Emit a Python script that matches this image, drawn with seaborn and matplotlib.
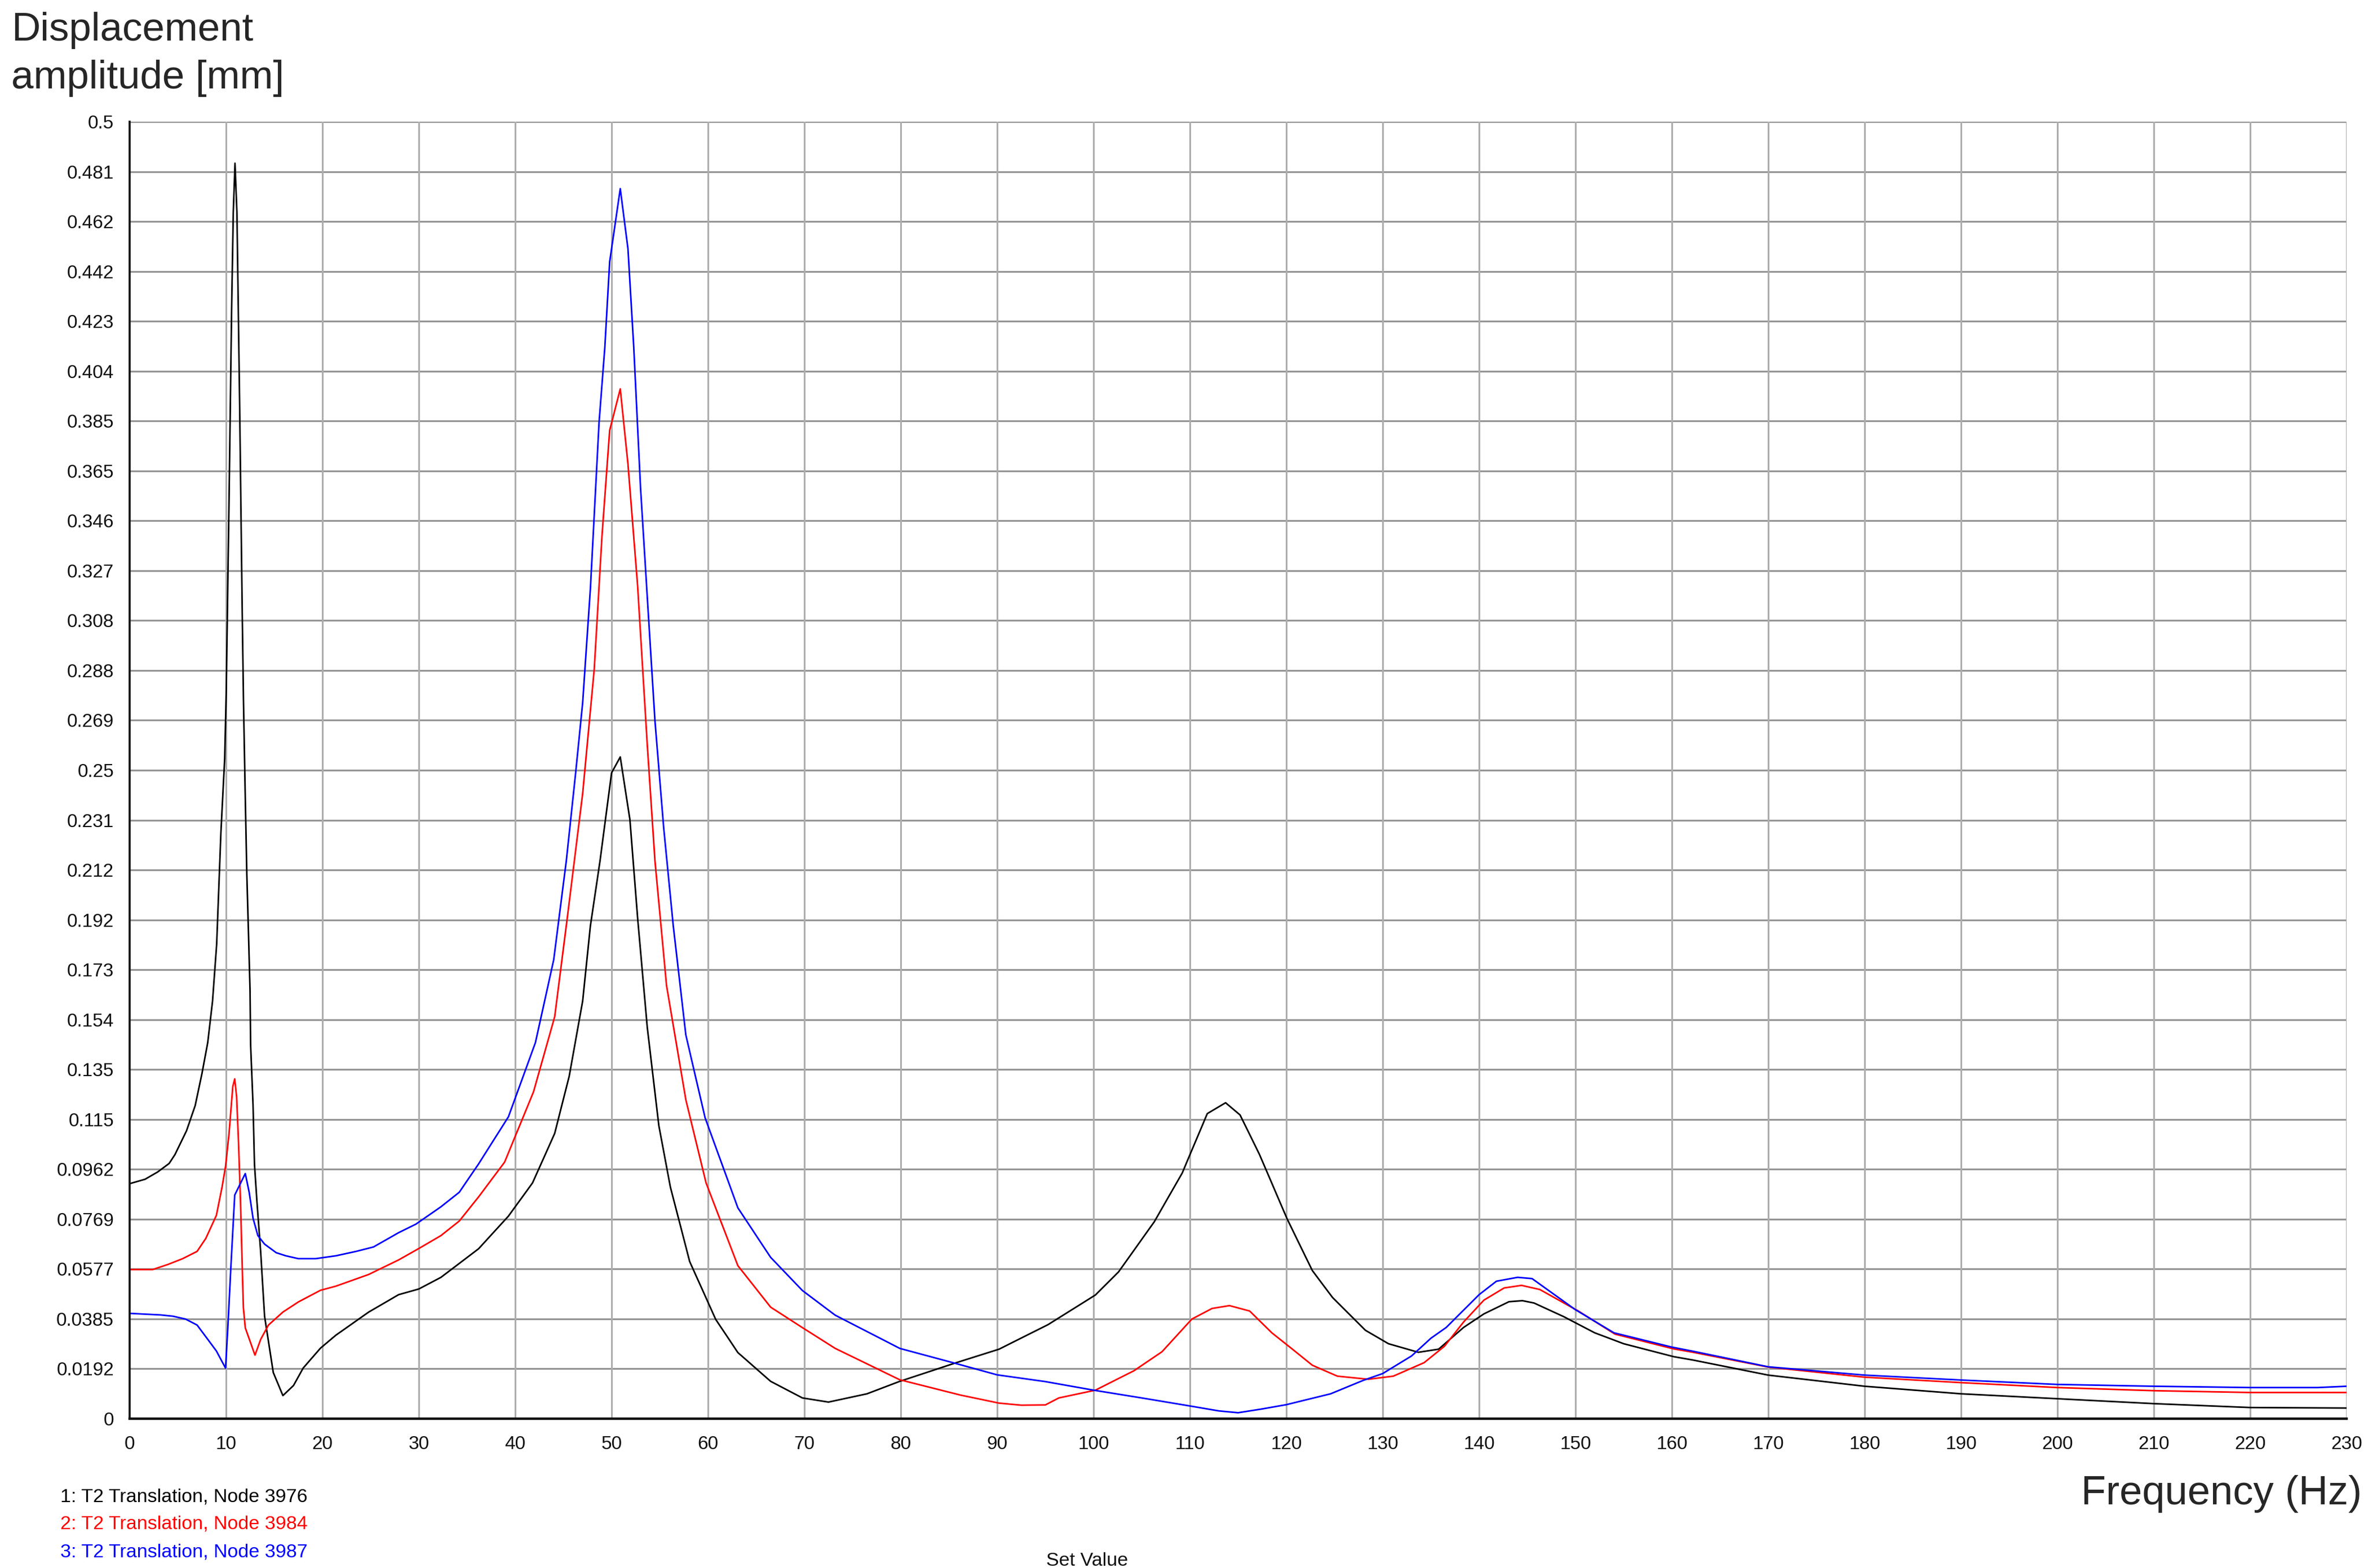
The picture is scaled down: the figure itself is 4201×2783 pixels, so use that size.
import matplotlib
matplotlib.use("Agg")
import matplotlib.pyplot as plt
import seaborn as sns
import numpy as np
import pandas as pd

# ---------------- data ----------------
series_names = ["1: T2 Translation, Node 3976",
                "2: T2 Translation, Node 3984",
                "3: T2 Translation, Node 3987"]
series_colors = ["#000000", "#FF0000", "#0000FF"]

freq_black = [0, 1.6, 2.9, 4.1, 4.7, 5.9, 6.8, 7.5, 8.1, 8.6, 9.03, 9.47, 9.86, 10.02,
              10.31, 10.58, 10.75, 10.93, 11.13, 11.42, 11.67, 11.81, 12.0, 12.16, 12.33,
              12.49, 12.55, 12.8, 12.95, 13.2, 13.6, 14.0, 14.9, 15.9, 17.0, 18.0, 19.8,
              21.4, 24.8, 27.9, 30.0, 32.3, 36.2, 39.3, 41.8, 44.1, 45.6, 47.0, 47.8, 48.8,
              50.0, 50.9, 51.9, 52.7, 53.7, 54.9, 56.1, 58.1, 60.8, 63.1, 66.5, 69.8, 72.5,
              76.5, 79.9, 85.6, 90.2, 95.3, 100.2, 102.6, 106.3, 109.2, 111.8, 113.7, 115.2,
              117.2, 120.1, 122.7, 124.8, 128.2, 130.6, 133.7, 135.8, 138.4, 140.5, 143.1,
              144.5, 145.7, 148.8, 152.0, 155.0, 160.2, 162.2, 170, 180, 190, 200, 210, 220, 230]
amp_black = [0.0906, 0.0923, 0.0951, 0.0984, 0.1018, 0.111, 0.1207, 0.133, 0.145, 0.161, 0.183,
             0.226, 0.2545, 0.280, 0.354, 0.428, 0.465, 0.484, 0.465, 0.389, 0.314, 0.277, 0.239,
             0.2095, 0.187, 0.165, 0.144, 0.121, 0.098, 0.084, 0.064, 0.0395, 0.0178, 0.0089,
             0.0128, 0.0195, 0.0272, 0.0322, 0.0411, 0.0478, 0.050, 0.0545, 0.0655, 0.0781,
             0.0909, 0.110, 0.132, 0.161, 0.190, 0.215, 0.249, 0.2551, 0.231, 0.193, 0.151,
             0.113, 0.0893, 0.0606, 0.0383, 0.0255, 0.0144, 0.008, 0.0064, 0.0096, 0.0144,
             0.0214, 0.0268, 0.0363, 0.0477, 0.0566, 0.0759, 0.0947, 0.1176, 0.1218, 0.1171,
             0.102, 0.0769, 0.0571, 0.0467, 0.0341, 0.0289, 0.0256, 0.0268, 0.0352, 0.0404,
             0.0451, 0.0455, 0.0446, 0.0393, 0.0331, 0.0289, 0.0239, 0.0226, 0.0168, 0.0125,
             0.0096, 0.0077, 0.0058, 0.0043, 0.0041]

freq_red = [0, 2.4, 4.0, 5.5, 7.0, 7.9, 9.0, 9.6, 9.95, 10.3, 10.7, 10.9, 11.1, 11.3, 11.5,
            11.7, 11.8, 12.0, 13.0, 13.6, 14.4, 15.9, 17.5, 19.8, 21.4, 24.8, 27.9, 30.0, 32.3,
            34.2, 36.2, 38.9, 41.9, 44.1, 45.4, 47.0, 48.2, 49.0, 49.8, 50.9, 51.7, 52.7, 53.7,
            54.5, 55.7, 57.7, 59.8, 63.1, 66.5, 69.8, 73.2, 79.9, 86.2, 90.2, 92.5, 95.0, 96.4,
            100.2, 104.2, 107.1, 110.2, 112.3, 114.1, 116.2, 118.5, 120.6, 122.7, 125.3, 128.5,
            131.1, 134.3, 136.4, 138.4, 140.5, 142.6, 144.4, 146.3, 150.3, 154.1, 160.2, 162.2,
            170, 180, 190, 200, 210, 220, 230]
amp_red = [0.0575, 0.0575, 0.0595, 0.0617, 0.0645, 0.0695, 0.0784, 0.0895, 0.0973, 0.1095,
           0.128, 0.131, 0.124, 0.106, 0.084, 0.056, 0.0428, 0.035, 0.0245, 0.0306, 0.0361,
           0.0411, 0.045, 0.0495, 0.0511, 0.0556, 0.0612, 0.0656, 0.0706, 0.0762, 0.0855,
           0.0989, 0.126, 0.155, 0.193, 0.241, 0.289, 0.340, 0.381, 0.397, 0.368, 0.321, 0.260,
           0.215, 0.167, 0.123, 0.0909, 0.059, 0.043, 0.0351, 0.0271, 0.0150, 0.0091, 0.006,
           0.0052, 0.0053, 0.008, 0.011, 0.0185, 0.0258, 0.0384, 0.0425, 0.0436, 0.0415,
           0.0331, 0.0269, 0.0206, 0.0164, 0.0152, 0.0164, 0.0216, 0.0279, 0.0373, 0.0457,
           0.0504, 0.0514, 0.0498, 0.0415, 0.0326, 0.0269, 0.0256, 0.0199, 0.016, 0.0139,
           0.012, 0.0108, 0.0101, 0.0101]

freq_blue = [0, 3.2, 4.5, 5.8, 7.0, 8.1, 9.0, 9.95, 10.2, 10.5, 10.9, 12.0, 12.4, 12.8, 13.3,
             14.0, 15.2, 16.2, 17.5, 19.3, 21.4, 23.5, 25.3, 27.9, 29.7, 32.3, 34.2, 36.2, 39.3,
             42.1, 44.0, 45.3, 46.3, 47.0, 47.8, 48.7, 49.3, 49.8, 50.9, 51.7, 52.3, 53.0, 53.7,
             54.5, 55.4, 56.4, 57.7, 59.7, 63.1, 66.5, 69.8, 73.2, 79.9, 85.6, 90.0, 95.0,
             100.0, 105.0, 110.0, 113.0, 115.0, 117.4, 120.0, 124.6, 128.0, 130.0, 133.0,
             135.0, 136.6, 140.0, 141.8, 144.0, 145.5, 150.0, 154.0, 160.0, 162.2, 170, 180,
             190, 200, 210, 220, 227, 230]
amp_blue = [0.0406, 0.040, 0.0395, 0.0384, 0.0361, 0.0306, 0.0261, 0.0195, 0.0361, 0.0584,
            0.0862, 0.0945, 0.0873, 0.0773, 0.0706, 0.0673, 0.064, 0.0628, 0.0617, 0.0617,
            0.0628, 0.0645, 0.0662, 0.0717, 0.075, 0.0817, 0.0873, 0.0982, 0.1164, 0.145,
            0.177, 0.215, 0.250, 0.276, 0.320, 0.384, 0.413, 0.446, 0.4742, 0.451, 0.413,
            0.359, 0.317, 0.269, 0.228, 0.190, 0.148, 0.116, 0.0813, 0.0622, 0.0494, 0.0399,
            0.0271, 0.0214, 0.0169, 0.0143, 0.011, 0.008, 0.0049, 0.003, 0.0023, 0.0037,
            0.0054, 0.0096, 0.0148, 0.0174, 0.0242, 0.031, 0.0352, 0.0478, 0.053, 0.0545,
            0.054, 0.042, 0.0331, 0.0276, 0.026, 0.020, 0.0168, 0.0149, 0.0132, 0.0125,
            0.012, 0.012, 0.0125]

x_ticks = list(range(0, 231, 10))
x_tick_labels = [str(v) for v in x_ticks]
y_tick_labels = ["0", "0.0192", "0.0385", "0.0577", "0.0769", "0.0962", "0.115", "0.135",
                 "0.154", "0.173", "0.192", "0.212", "0.231", "0.25", "0.269", "0.288",
                 "0.308", "0.327", "0.346", "0.365", "0.385", "0.404", "0.423", "0.442",
                 "0.462", "0.481", "0.5"]

# ---------------- figure ----------------
sns.set_style("white")
plt.rcParams["font.family"] = ["Liberation Sans", "DejaVu Sans"]

W, H = 4201, 2783
fig = plt.figure(figsize=(W / 100, H / 100), dpi=100)
ax = fig.add_axes([230 / W, 1 - 2518 / H, (4163 - 230) / W, (2518 - 216) / H])

df = pd.concat([
    pd.DataFrame({"freq": freq_black, "amp": amp_black, "series": series_names[0]}),
    pd.DataFrame({"freq": freq_red, "amp": amp_red, "series": series_names[1]}),
    pd.DataFrame({"freq": freq_blue, "amp": amp_blue, "series": series_names[2]}),
], ignore_index=True)

sns.lineplot(data=df, x="freq", y="amp", hue="series", hue_order=series_names,
             palette=dict(zip(series_names, series_colors)), estimator=None,
             sort=False, linewidth=2.0, legend=False, ax=ax, zorder=3)

ax.set_xlim(0, 230)
ax.set_ylim(0, 0.5)
y_ticks = [0.5 * k / (len(y_tick_labels) - 1) for k in range(len(y_tick_labels))]
ax.set_xticks(x_ticks)
ax.set_xticklabels(x_tick_labels)
ax.set_yticks(y_ticks)
ax.set_yticklabels(y_tick_labels)
ax.set_xlabel("")
ax.set_ylabel("")

ax.grid(False)
for yv in y_ticks[1:]:
    ax.axhline(yv, color="#959595", linewidth=2.3, zorder=1)
for xv in x_ticks[1:]:
    ax.axvline(xv, color="#ADADAD", linewidth=2.2, zorder=1)

for side in ["top", "right"]:
    ax.spines[side].set_visible(False)
ax.spines["left"].set_color("#111111")
ax.spines["left"].set_linewidth(2.6)
ax.spines["bottom"].set_color("#111111")
ax.spines["bottom"].set_linewidth(3.2)
ax.spines["left"].set_zorder(4)
ax.spines["bottom"].set_zorder(4)

ax.tick_params(axis="both", which="major", direction="out", length=13.5, width=1.4,
               color="#111111", labelsize=24, labelcolor="#111111")
ax.tick_params(axis="y", pad=6.5)
ax.tick_params(axis="x", pad=8)

# titles / labels
fig.text(20 / W, 1 - 72 / H, "Displacement", ha="left", va="baseline", fontsize=51)
fig.text(20 / W, 1 - 157 / H, "amplitude [mm]", ha="left", va="baseline", fontsize=51)
fig.text(4190 / W, 1 - 2670 / H, "Frequency (Hz)", ha="right", va="baseline", fontsize=52)

for i, (name, col) in enumerate(zip(series_names, series_colors)):
    base = [2665, 2714, 2763][i]
    fig.text(107 / W, 1 - base / H, name, ha="left", va="baseline", fontsize=24.5, color=col)

fig.text(1929 / W, 1 - 2779 / H, "Set Value", ha="center", va="baseline", fontsize=24.5,
         color="#111111")

fig.savefig("out.png", dpi=100)
